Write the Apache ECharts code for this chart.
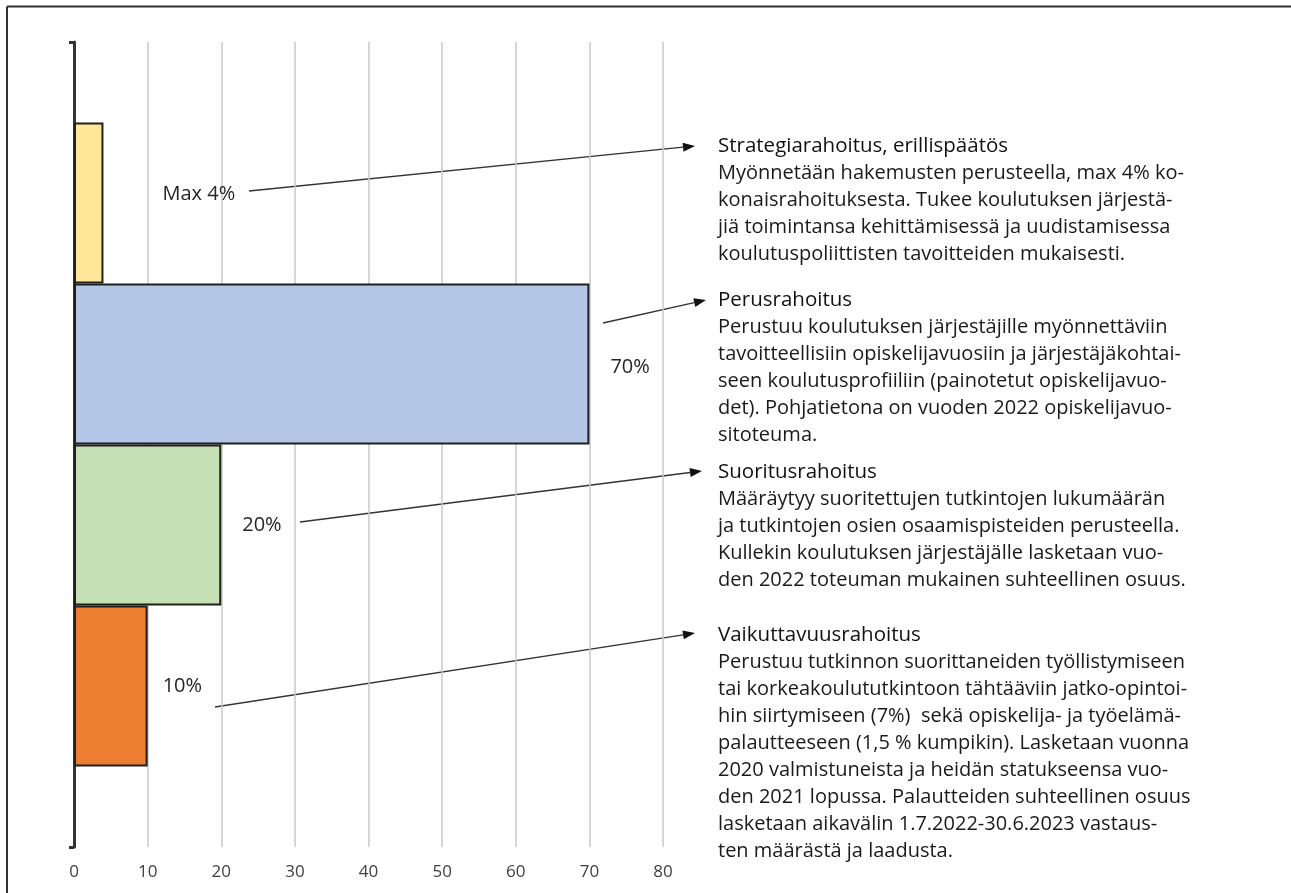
<!DOCTYPE html>
<html>
<head>
<meta charset="utf-8">
<script src="https://cdn.jsdelivr.net/npm/echarts@6/dist/echarts.min.js"></script>
<style>
html,body{margin:0;padding:0;background:#fff;}
#chart{width:1291px;height:893px;}
</style>
</head>
<body>
<div id="chart"></div>
<script>
// ---- data ----
const categories = ['', 'Strategiarahoitus', 'Perusrahoitus', 'Suoritusrahoitus', 'Vaikuttavuusrahoitus', ''];
const shares = [null, 4, 70, 20, 10, null];
const shareLabels = ['', 'Max 4%', '70%', '20%', '10%', ''];
const xMin = 0, xMax = 80, xStep = 10;
const titles = ['Strategiarahoitus, erillispäätös', 'Perusrahoitus', 'Suoritusrahoitus', 'Vaikuttavuusrahoitus'];
const descriptions = [
  ['Myönnetään hakemusten perusteella, max 4% ko-',
   'konaisrahoituksesta. Tukee koulutuksen järjestä-',
   'jiä toimintansa kehittämisessä ja uudistamisessa',
   'koulutuspoliittisten tavoitteiden mukaisesti.'],
  ['Perustuu koulutuksen järjestäjille myönnettäviin',
   'tavoitteellisiin opiskelijavuosiin ja järjestäjäkohtai-',
   'seen koulutusprofiiliin (painotetut opiskelijavuo-',
   'det). Pohjatietona on vuoden 2022 opiskelijavuo-',
   'sitoteuma.'],
  ['Määräytyy suoritettujen tutkintojen lukumäärän',
   'ja tutkintojen osien osaamispisteiden perusteella.',
   'Kullekin koulutuksen järjestäjälle lasketaan vuo-',
   'den 2022 toteuman mukainen suhteellinen osuus.'],
  ['Perustuu tutkinnon suorittaneiden työllistymiseen',
   'tai korkeakoulututkintoon tähtääviin jatko-opintoi-',
   'hin siirtymiseen (7%)  sekä opiskelija- ja työelämä-',
   'palautteeseen (1,5 % kumpikin). Lasketaan vuonna',
   '2020 valmistuneista ja heidän statukseensa vuo-',
   'den 2021 lopussa. Palautteiden suhteellinen osuus',
   'lasketaan aikavälin 1.7.2022-30.6.2023 vastaus-',
   'ten määrästä ja laadusta.']
];

// ---- styles ----
const barColors = [null, '#FFE699', '#B4C7E7', '#C5E0B4', '#ED7D31', null];
const labelDist = [0, 59, 21, 21, 15, 0];
const labelDy = [0, -9, 3, 0, 0, 0];
const FONT = '"Open Sans", "Liberation Sans", sans-serif';
const textX = 718;
const titleY = [146, 300, 472, 635];
const LH = 27;
const arrows = [
  [249, 191, 695, 146],
  [603, 323, 706, 300],
  [300, 522, 702, 471],
  [215, 707, 695, 633]
];

const chart = echarts.init(document.getElementById('chart'));

const graphics = [];
// frame
graphics.push({type:'line', shape:{x1:7, y1:6.5, x2:1291, y2:6.5}, style:{stroke:'#333', lineWidth:2}});
graphics.push({type:'line', shape:{x1:7, y1:6.5, x2:7, y2:893}, style:{stroke:'#333', lineWidth:2}});
// arrows
arrows.forEach(a => {
  const [x1,y1,x2,y2] = a;
  const ang = Math.atan2(y2-y1, x2-x1);
  const L = 12, W = 4.5;
  const bx = x2 - L*Math.cos(ang), by = y2 - L*Math.sin(ang);
  const px = -Math.sin(ang)*W, py = Math.cos(ang)*W;
  graphics.push({type:'line', shape:{x1, y1, x2:bx, y2:by}, style:{stroke:'#333', lineWidth:1.3}});
  graphics.push({type:'polygon', shape:{points:[[x2,y2],[bx+px,by+py],[bx-px,by-py]]}, style:{fill:'#111'}});
});
// texts
titles.forEach((t, i) => {
  graphics.push({type:'text', style:{text:t, x:textX, y:titleY[i], font:'20.5px ' + FONT, fill:'#111', textVerticalAlign:'middle'}});
  graphics.push({type:'text', style:{text:descriptions[i].join('\n'), x:textX, y:titleY[i] + LH - LH/2, font:'20px ' + FONT, fill:'#1a1a1a', textVerticalAlign:'top', lineHeight:LH}});
});

chart.setOption({
  animation: false,
  grid: {left: 74, right: 628, top: 42, bottom: 46, containLabel: false},
  xAxis: {
    type: 'value', min: xMin, max: xMax, interval: xStep,
    axisLine: {show: false}, axisTick: {show: false},
    splitLine: {show: true, lineStyle: {color: '#c8c8c8', width: 1.5}},
    axisLabel: {color: '#404040', fontSize: 17, fontFamily: FONT, margin: 17}
  },
  yAxis: {
    type: 'category', data: categories, inverse: true, boundaryGap: false,
    axisLine: {show: true, lineStyle: {color: '#333', width: 3}},
    axisTick: {show: true, length: 5, interval: (i) => i === 0 || i === categories.length - 1, lineStyle: {color: '#333', width: 3}},
    axisLabel: {show: false},
    splitLine: {show: false}
  },
  series: [{
    type: 'bar',
    barWidth: '100%',
    data: shares.map((v, i) => v == null ? null : {
      value: v,
      itemStyle: {color: barColors[i], borderColor: '#1f1f1f', borderWidth: 2},
      label: {show: true, position: 'right', distance: labelDist[i], offset: [0, labelDy[i]],
        formatter: shareLabels[i], color: '#262626', fontSize: 20, fontFamily: FONT}
    })
  }],
  graphic: graphics
});
</script>
</body>
</html>
